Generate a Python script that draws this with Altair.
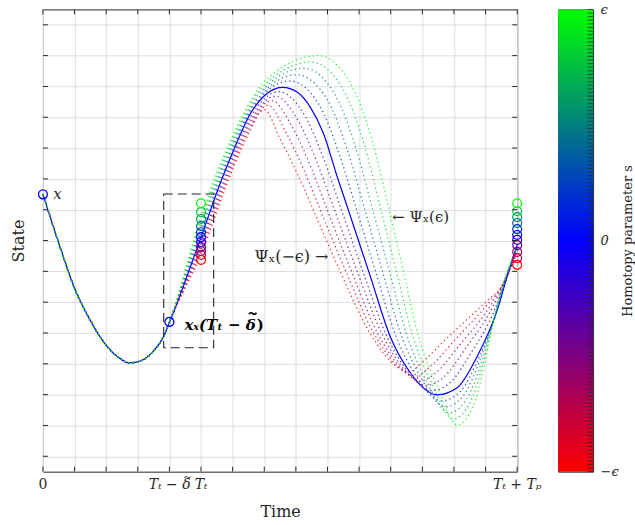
import altair as alt
import pandas as pd

# ---------------- data ----------------
S_VALUES = [-1.0, -0.8, -0.6, -0.4, -0.2, 0.0, 0.2, 0.4, 0.6, 0.8, 1.0]

# common part of all trajectories (before T_t - delta)
PRE_X = [0.0, 0.5, 1.0, 1.5, 2.0, 2.4, 2.72, 3.1, 3.5, 3.8]
PRE_Y = [8.5, 6.92, 5.45, 4.4, 3.6, 3.2, 3.03, 3.1, 3.42, 3.85]

# nominal trajectory (solid blue) after T_t - delta
BLUE_X = [4.01, 5.0, 5.62, 6.03, 6.57, 7.10, 7.58, 8.05, 8.46, 8.87, 9.31, 9.66, 10.36,
          10.99, 11.62, 12.47, 13.1, 13.74, 14.37, 14.68, 15.0]
BLUE_Y = [4.36, 7.11, 8.89, 9.93, 11.13, 11.78, 11.97, 11.81, 11.32, 10.48, 9.06, 7.99, 5.82,
          3.87, 2.71, 1.99, 2.22, 3.25, 4.75, 5.82, 6.85]

# homotopy family: characteristic points, one value per s (s = -1 ... 1)
START_X = [4.0, 4.0, 4.0, 4.0, 4.0, 4.0, 4.0, 4.0, 4.0, 4.0, 4.0]
START_Y = [4.36, 4.36, 4.36, 4.36, 4.36, 4.36, 4.36, 4.36, 4.36, 4.36, 4.36]
AT5_X = [5.0, 5.0, 5.0, 5.0, 5.0, 5.0, 5.0, 5.0, 5.0, 5.0, 5.0]
AT5_Y = [6.55, 6.66, 6.77, 6.88, 7.0, 7.11, 7.25, 7.39, 7.52, 7.66, 7.8]
AT6_X = [6.0, 6.0, 6.0, 6.0, 6.0, 6.0, 6.0, 6.0, 6.0, 6.0, 6.0]
AT6_Y = [9.3, 9.41, 9.52, 9.63, 9.74, 9.85, 9.96, 10.07, 10.18, 10.29, 10.4]
PRE_PK_X = [6.5, 6.52, 6.54, 6.56, 6.58, 6.6, 6.68, 6.76, 6.84, 6.92, 7.0]
PRE_PK_Y = [10.45, 10.59, 10.74, 10.88, 11.03, 11.17, 11.37, 11.56, 11.76, 11.95, 12.15]
PEAK_X = [7.0, 7.12, 7.23, 7.35, 7.46, 7.58, 7.81, 8.03, 8.26, 8.48, 8.71]
PEAK_Y = [11.25, 11.39, 11.54, 11.68, 11.83, 11.97, 12.18, 12.38, 12.59, 12.79, 13.0]
POST_PK_X = [7.5, 7.7, 7.9, 8.1, 8.3, 8.5, 8.75, 9.0, 9.24, 9.49, 9.73]
POST_PK_Y = [10.3, 10.48, 10.66, 10.84, 11.02, 11.2, 11.38, 11.56, 11.73, 11.91, 12.09]
DESC1_X = [8.04, 8.25, 8.46, 8.67, 8.88, 9.09, 9.35, 9.62, 9.88, 10.15, 10.41]
DESC1_Y = [9.18, 9.3, 9.42, 9.53, 9.65, 9.77, 9.87, 9.97, 10.06, 10.16, 10.25]
DESC2_X = [8.55, 8.77, 8.99, 9.22, 9.44, 9.66, 9.92, 10.18, 10.43, 10.69, 10.95]
DESC2_Y = [8.0, 8.0, 8.0, 8.0, 8.0, 8.0, 8.0, 8.0, 8.0, 8.0, 8.0]
DESC3_X = [9.4, 9.58, 9.76, 9.94, 10.12, 10.3, 10.52, 10.74, 10.96, 11.18, 11.4]
DESC3_Y = [6.0, 6.0, 6.0, 6.0, 6.0, 6.0, 6.0, 6.0, 6.0, 6.0, 6.0]
DESC4_X = [10.34, 10.46, 10.58, 10.71, 10.83, 10.95, 11.13, 11.31, 11.49, 11.67, 11.85]
DESC4_Y = [4.0, 4.0, 4.0, 4.0, 4.0, 4.0, 4.0, 4.0, 4.0, 4.0, 4.0]
PRE_MIN_X = [11.2, 11.28, 11.37, 11.45, 11.54, 11.62, 11.8, 11.98, 12.15, 12.33, 12.5]
PRE_MIN_Y = [2.9, 2.86, 2.82, 2.79, 2.75, 2.71, 2.61, 2.51, 2.4, 2.3, 2.2]
MIN_X = [11.6, 11.77, 11.95, 12.12, 12.3, 12.47, 12.6, 12.72, 12.85, 12.97, 13.1]
MIN_Y = [2.73, 2.59, 2.44, 2.3, 2.13, 1.99, 1.8, 1.6, 1.41, 1.21, 1.02]
POST_MIN_X = [12.05, 12.26, 12.47, 12.68, 12.89, 13.1, 13.2, 13.3, 13.4, 13.5, 13.6]
POST_MIN_Y = [3.1, 2.92, 2.75, 2.57, 2.4, 2.22, 2.1, 1.97, 1.85, 1.72, 1.6]
ASC1_X = [12.8, 12.99, 13.18, 13.36, 13.55, 13.74, 13.78, 13.82, 13.87, 13.91, 13.95]
ASC1_Y = [3.85, 3.73, 3.61, 3.49, 3.37, 3.25, 3.18, 3.11, 3.04, 2.97, 2.9]
ASC2_X = [14.05, 14.11, 14.18, 14.24, 14.31, 14.37, 14.35, 14.32, 14.3, 14.27, 14.25]
ASC2_Y = [5.05, 4.99, 4.93, 4.87, 4.81, 4.75, 4.68, 4.62, 4.55, 4.49, 4.42]
ASC3_X = [14.5, 14.54, 14.57, 14.61, 14.64, 14.68, 14.66, 14.63, 14.61, 14.58, 14.56]
ASC3_Y = [5.5, 5.56, 5.63, 5.69, 5.76, 5.82, 5.78, 5.74, 5.7, 5.66, 5.62]
END_X = [15.0, 15.0, 15.0, 15.0, 15.0, 15.0, 15.0, 15.0, 15.0, 15.0, 15.0]
END_Y = [6.6, 6.64, 6.68, 6.72, 6.76, 6.8, 6.8, 6.8, 6.78, 6.76, 6.75]

FAM_X = [START_X, AT5_X, AT6_X, PRE_PK_X, PEAK_X, POST_PK_X, DESC1_X, DESC2_X, DESC3_X,
         DESC4_X, PRE_MIN_X, MIN_X, POST_MIN_X, ASC1_X, ASC2_X, ASC3_X, END_X]
FAM_Y = [START_Y, AT5_Y, AT6_Y, PRE_PK_Y, PEAK_Y, POST_PK_Y, DESC1_Y, DESC2_Y, DESC3_Y,
         DESC4_Y, PRE_MIN_Y, MIN_Y, POST_MIN_Y, ASC1_Y, ASC2_Y, ASC3_Y, END_Y]

# circles: states at T_t and at T_t + T_p, per s
CIRC_T_X = 5.0
CIRC_T_Y = [6.37, 6.53, 6.66, 6.79, 6.95, 7.11, 7.27, 7.47, 7.70, 7.92, 8.21]
CIRC_END_X = 15.0
CIRC_END_Y = [6.21, 6.43, 6.63, 6.85, 7.02, 7.18, 7.37, 7.57, 7.76, 7.95, 8.21]

# marked nominal points
MARK_X = [0.0, 4.0]
MARK_Y = [8.5, 4.36]

# dashed zoom box
BOX_X = [3.82, 5.40]
BOX_Y = [3.52, 8.51]

# axes
X_TICKS = list(range(16))
Y_TICKS = list(range(15))
X_DOMAIN = [0, 15]
Y_DOMAIN = [-0.5, 14.5]
CB_TICKS = [round(-1 + k / 64, 5) for k in range(129)]

# x tick labels (centred) and the "T_t - delta~" label (right aligned)
XLAB_POS = [0, 5, 15]
XLAB_TEXT = ["0", "T\u209c", "T\u209c + T\u209a"]
XLAB_STYLE = ["normal", "italic", "italic"]
XLAB_DELTA_POS = [4.67]
XLAB_DELTA_TEXT = ["T\u209c \u2212 \u03b4"]

FONT = "DejaVu Serif"
INK = "#262626"
TILDE = "M -1 0.2 C -0.7 -0.3 -0.35 -0.3 0 0 C 0.35 0.3 0.7 0.3 1 -0.2"

# ---------------- tables ----------------
fam_rows = []
for k, s in enumerate(S_VALUES):
    if s == 0.0:
        continue
    xs = PRE_X + [a[k] for a in FAM_X]
    ys = PRE_Y + [a[k] for a in FAM_Y]
    for i, (x, y) in enumerate(zip(xs, ys)):
        fam_rows.append({"s": s, "curve": k, "i": i, "x": x, "y": y})
fam_df = pd.DataFrame(fam_rows)

bx = PRE_X + BLUE_X
by = PRE_Y + BLUE_Y
blue_df = pd.DataFrame({"x": bx, "y": by, "i": range(len(bx))})
circ_df = pd.DataFrame({
    "s": S_VALUES + S_VALUES,
    "x": [CIRC_T_X] * len(S_VALUES) + [CIRC_END_X] * len(S_VALUES),
    "y": CIRC_T_Y + CIRC_END_Y,
})
mark_df = pd.DataFrame({"x": MARK_X, "y": MARK_Y})
box_df = pd.DataFrame({"x": [BOX_X[0]], "x2": [BOX_X[1]], "y": [BOX_Y[0]], "y2": [BOX_Y[1]]})

tx = 0.158
ty = 0.162
tick_rows = []
for v in X_TICKS:
    tick_rows.append({"x": v, "x2": v, "y": Y_DOMAIN[0], "y2": Y_DOMAIN[0] + ty})
    tick_rows.append({"x": v, "x2": v, "y": Y_DOMAIN[1], "y2": Y_DOMAIN[1] - ty})
for v in Y_TICKS:
    tick_rows.append({"x": X_DOMAIN[0], "x2": X_DOMAIN[0] + tx, "y": v, "y2": v})
    tick_rows.append({"x": X_DOMAIN[1], "x2": X_DOMAIN[1] - tx, "y": v, "y2": v})
tick_df = pd.DataFrame(tick_rows)

cscale = alt.Scale(domain=[-1, 0, 1], range=["#ff0000", "#0000ff", "#00ff00"], interpolate="rgb")


def X(field="x"):
    return alt.X(f"{field}:Q", scale=alt.Scale(domain=X_DOMAIN, nice=False, zero=False),
                 axis=alt.Axis(values=X_TICKS, grid=True, ticks=False, domain=False, labels=False,
                               title="Time", titleFont=FONT, titleFontSize=16,
                               titleFontWeight="normal", titleColor=INK, titlePadding=32))


def Y(field="y"):
    return alt.Y(f"{field}:Q", scale=alt.Scale(domain=Y_DOMAIN, nice=False, zero=False),
                 axis=alt.Axis(values=Y_TICKS, grid=True, ticks=False, domain=False, labels=False,
                               title="State", titleFont=FONT, titleFontSize=16,
                               titleFontWeight="normal", titleColor=INK, titlePadding=16))


blue_line = alt.Chart(blue_df).mark_line(color="#0000ff", strokeWidth=1.2, interpolate="monotone").encode(
    x=X(), y=Y(), order="i:Q")

fam_lines = alt.Chart(fam_df).mark_line(strokeDash=[1.3, 3], strokeWidth=1.3, interpolate="monotone",
                                        opacity=0.8).encode(
    x=X(), y=Y(), color=alt.Color("s:Q", scale=cscale, legend=None),
    detail="curve:N", order="i:Q")

circles = alt.Chart(circ_df).mark_point(shape="circle", filled=False, size=80, strokeWidth=1.2,
                                        opacity=1).encode(
    x=X(), y=Y(), color=alt.Color("s:Q", scale=cscale, legend=None))

marks = alt.Chart(mark_df).mark_point(shape="circle", filled=False, size=80, strokeWidth=1.3,
                                      color="#0000ff", opacity=1).encode(x=X(), y=Y())

box = alt.Chart(box_df).mark_rect(fillOpacity=0, stroke=INK, strokeDash=[9, 5], strokeWidth=1.1).encode(
    x=X(), x2="x2:Q", y=Y(), y2="y2:Q")

ticks = alt.Chart(tick_df).mark_rule(color=INK, strokeWidth=1).encode(
    x=X(), x2="x2:Q", y=Y(), y2="y2:Q")

# x tick labels drawn as text under the axis
xlab_df = pd.DataFrame({"x": XLAB_POS, "y": [Y_DOMAIN[0]] * len(XLAB_POS), "t": XLAB_TEXT,
                        "st": XLAB_STYLE})
xlab_norm = alt.Chart(xlab_df[xlab_df.st == "normal"]).mark_text(
    align="center", baseline="top", dy=6, font=FONT, fontSize=14, color=INK).encode(
    x=X(), y=Y(), text="t:N")
xlab_ital = alt.Chart(xlab_df[xlab_df.st == "italic"]).mark_text(
    align="center", baseline="top", dy=6, font=FONT, fontSize=14, fontStyle="italic", color=INK).encode(
    x=X(), y=Y(), text="t:N")
xlab_delta_df = pd.DataFrame({"x": XLAB_DELTA_POS, "y": [Y_DOMAIN[0]], "t": XLAB_DELTA_TEXT})
xlab_delta = alt.Chart(xlab_delta_df).mark_text(
    align="right", baseline="top", dy=6, font=FONT, fontSize=14, fontStyle="italic", color=INK).encode(
    x=X(), y=Y(), text="t:N")
xlab_tilde = alt.Chart(xlab_delta_df).mark_point(
    shape=TILDE, size=42, filled=False, strokeWidth=1.0, color=INK, opacity=1,
    xOffset=-3, yOffset=5.5).encode(x=X(), y=Y())

# annotations
ANN_X_TEXT = ["x"]
ANN_X_POS = [0.33]
ANN_X_Y = [8.5]
txt_x = alt.Chart(pd.DataFrame({"t": ANN_X_TEXT, "x": ANN_X_POS, "y": ANN_X_Y})).mark_text(
    align="left", baseline="middle", font=FONT, fontSize=15, fontStyle="italic", color=INK).encode(
    x=X(), y=Y(), text="t:N")

ANN_B_TEXT = ["x\u2093(T\u209c \u2212 \u03b4"]
ANN_B_TAIL = [")"]
ANN_B_X = [6.73]
ANN_B_Y = [4.26]
ann_b_df = pd.DataFrame({"t": ANN_B_TEXT, "tail": ANN_B_TAIL, "x": ANN_B_X, "y": ANN_B_Y})
txt_b = alt.Chart(ann_b_df).mark_text(
    align="right", baseline="middle", font=FONT, fontSize=15, fontStyle="italic", fontWeight="bold",
    color="#000000").encode(x=X(), y=Y(), text="t:N")
txt_b_tail = alt.Chart(ann_b_df).mark_text(
    align="left", baseline="middle", dx=1, font=FONT, fontSize=15, fontWeight="bold",
    color="#000000").encode(x=X(), y=Y(), text="tail:N")
txt_b_tilde = alt.Chart(ann_b_df).mark_point(
    shape=TILDE, size=56, filled=False, strokeWidth=1.7, color="#000000", opacity=1,
    xOffset=-3, yOffset=-11.5).encode(x=X(), y=Y())

ANN_R_TEXT = ["\u03a8\u2093(\u2212\u03f5) \u2192"]
ANN_R_X = [9.03]
ANN_R_Y = [6.46]
txt_r = alt.Chart(pd.DataFrame({"t": ANN_R_TEXT, "x": ANN_R_X, "y": ANN_R_Y})).mark_text(
    align="right", baseline="middle", font=FONT, fontSize=16, color=INK).encode(
    x=X(), y=Y(), text="t:N")

ANN_L_TEXT = ["\u2190 \u03a8\u2093(\u03f5)"]
ANN_L_X = [11.05]
ANN_L_Y = [7.76]
txt_l = alt.Chart(pd.DataFrame({"t": ANN_L_TEXT, "x": ANN_L_X, "y": ANN_L_Y})).mark_text(
    align="left", baseline="middle", font=FONT, fontSize=15, color=INK).encode(
    x=X(), y=Y(), text="t:N")

main = alt.layer(blue_line, fam_lines, circles, marks, box, ticks, xlab_norm, xlab_ital, xlab_delta,
                 xlab_tilde, txt_x, txt_b, txt_b_tail, txt_b_tilde, txt_r, txt_l).properties(
    width=475, height=463)

# ---------------- colorbar ----------------
gradient = {"gradient": "linear", "x1": 0, "x2": 0, "y1": 1, "y2": 0,
            "stops": [{"offset": 0, "color": "#ff0000"}, {"offset": 0.5, "color": "#0000ff"},
                      {"offset": 1, "color": "#00ff00"}]}

cb_df = pd.DataFrame({"cx": [0.0], "cx2": [1.0], "cy": [-1.0], "cy2": [1.0]})
cb_axis = alt.Axis(orient="right", values=[-1, 0, 1],
                   labelExpr="datum.value == 1 ? '\u03f5' : (datum.value == 0 ? '0' : '\u2212\u03f5')",
                   ticks=False, domain=False, grid=False, labelPadding=7, labelFont=FONT,
                   labelFontSize=13, labelColor=INK, labelFontStyle="italic",
                   title="Homotopy parameter s", titleAngle=270, titleFont=FONT, titleFontSize=13,
                   titleFontWeight="normal", titleColor=INK, titlePadding=16)
cb_x = alt.X("cx:Q", scale=alt.Scale(domain=[0, 1], nice=False), axis=None)
cb_y = alt.Y("cy:Q", scale=alt.Scale(domain=[-1, 1], nice=False), axis=cb_axis)
cb_bar = alt.Chart(cb_df).mark_rect(fill=gradient).encode(x=cb_x, x2="cx2:Q", y=cb_y, y2="cy2:Q")

cbt_df = pd.DataFrame({"cx": [0.84] * len(CB_TICKS), "cx2": [1.0] * len(CB_TICKS), "cy": CB_TICKS})
cb_ticks = alt.Chart(cbt_df).mark_rule(color=INK, strokeWidth=0.7).encode(x=cb_x, x2="cx2:Q", y=cb_y)

cbar = alt.layer(cb_bar, cb_ticks).properties(width=35, height=463)

chart = alt.hconcat(main, cbar, spacing=41, bounds="flush").resolve_scale(
    x="independent", y="independent", color="independent").properties(
    padding={"left": 10, "top": 2, "right": 0, "bottom": 0}).configure_view(
    stroke=INK, strokeWidth=1).configure_axis(gridColor="#dedede", gridWidth=1, gridOpacity=1)

chart.save("out.html", embed_options={"renderer": "svg", "actions": False})
